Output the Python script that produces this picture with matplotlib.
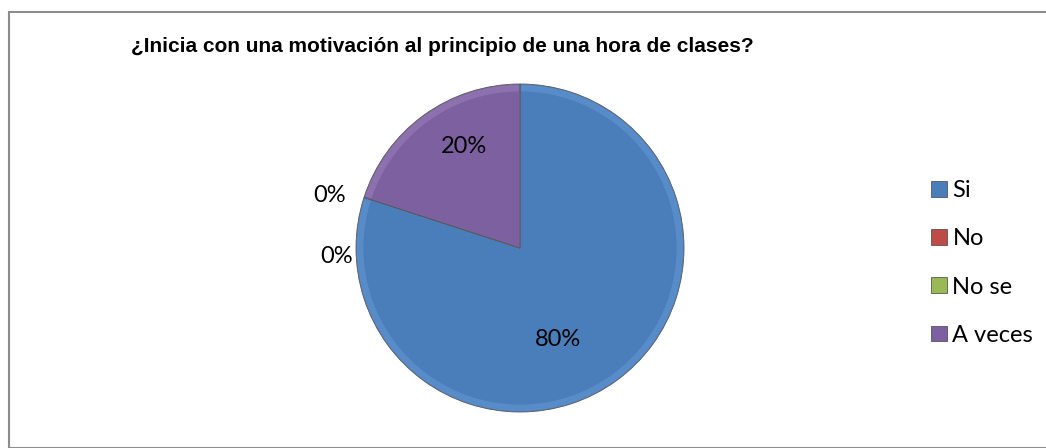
import matplotlib
matplotlib.use("Agg")
import matplotlib.pyplot as plt
from matplotlib.patches import Patch, Rectangle, Wedge

W, H = 1046, 448
title = "¿Inicia con una motivación al principio de una hora de clases?"
categories = ["Si", "No", "No se", "A veces"]
values = [80, 0, 0, 20]
colors = ["#4a7ebb", "#be4b48", "#98b954", "#7d60a0"]
rim_colors = ["#5f92d0", "#d47270", "#b3d177", "#9479b6"]
# where Excel put the percentage labels (relative to pie centre, in radii)
label_pos = [(0.23, -0.56), (-1.16, 0.32), (-1.12, -0.05), (-0.34, 0.62)]

plt.rcParams["font.family"] = ["Lato", "DejaVu Sans"]

fig = plt.figure(figsize=(W / 100, H / 100), dpi=100)
fig.patches.append(Rectangle((9 / W, 0), 1, 1 - 12 / H, transform=fig.transFigure,
                             fill=False, edgecolor="#8c8c8c", linewidth=1.5, zorder=0))

fig.text(442 / W, 1 - 47 / H, title, ha="center", va="center", fontsize=15,
         fontweight="bold", family="Liberation Sans")

# pie: centre (520, 248) px, radius 164 px
size = 340
ax = fig.add_axes([(520 - size / 2) / W, (H - 248 - size / 2) / H, size / W, size / H])

wedges, _ = ax.pie(values, colors=colors, startangle=90, counterclock=False,
                   wedgeprops=dict(edgecolor="#5a5a5a", linewidth=0.6))

# light bevel rim
for w, rc in zip(wedges, rim_colors):
    if w.theta2 - w.theta1 > 0.5:
        ax.add_patch(Wedge((0, 0), 0.995, w.theta1 + 0.4, w.theta2 - 0.4, width=0.04,
                           facecolor=rc, edgecolor="none", alpha=0.7))

lim = size / 2 / 164
ax.set_xlim(-lim, lim)
ax.set_ylim(-lim, lim)
ax.set_aspect("equal")
ax.axis("off")

total = sum(values)
for v, (x, y) in zip(values, label_pos):
    ax.text(x, y, f"{round(100 * v / total)}%", ha="center", va="center",
            fontsize=17, color="black")

handles = [Patch(facecolor=c, edgecolor="#404040", linewidth=0.5) for c in colors]
fig.legend(handles, categories, loc="center left",
           bbox_to_anchor=(910 / W, 1 - 263 / H), frameon=False, fontsize=17,
           handlelength=0.65, handleheight=0.65, handletextpad=0.25, labelspacing=1.15)

fig.savefig("out.png", dpi=100)
